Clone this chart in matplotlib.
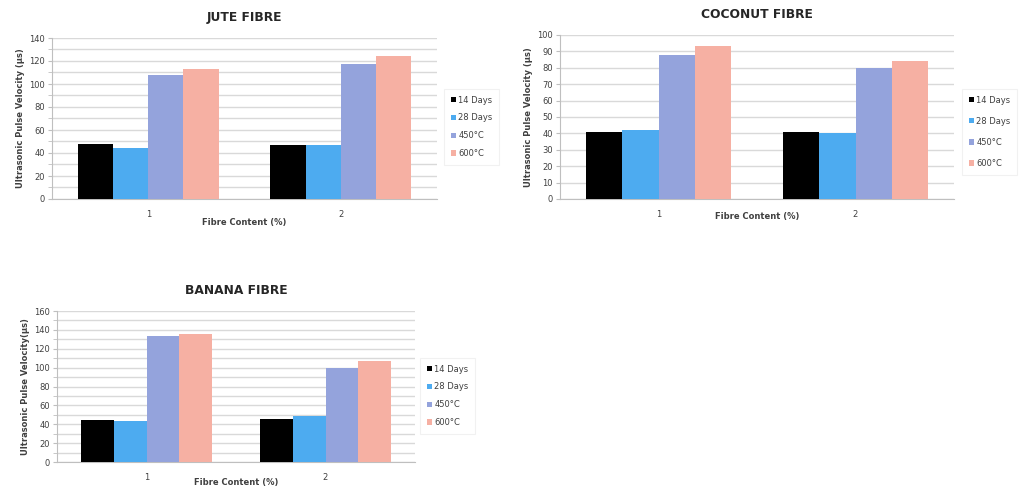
import numpy as np
import matplotlib
matplotlib.use("Agg")
import matplotlib.pyplot as plt

# Ultrasonic pulse velocity per fibre type, fibre content 1% and 2%
fibre_content = ["1", "2"]
series_names = ["14 Days", "28 Days", "450°C", "600°C"]
series_colors = ["#000000", "#4DABF0", "#94A3DC", "#F6B0A3"]

jute_values = [
    [48, 47],     # 14 Days
    [44, 47],     # 28 Days
    [108, 117],   # 450°C
    [113, 124],   # 600°C
]
coconut_values = [
    [41, 41],
    [42, 40],
    [88, 80],
    [93, 84],
]
banana_values = [
    [44, 46],
    [43, 49],
    [133, 100],
    [136, 107],
]

W, H = 1022, 490
fig = plt.figure(figsize=(W / 100, H / 100), dpi=100)
plt.rcParams["font.family"] = ["DejaVu Sans"]


def px_axes(left, top, right, bottom):
    return fig.add_axes([left / W, 1 - bottom / H, (right - left) / W, (bottom - top) / H])


def draw_panel(ax, values, title, ymax, major, minor, ylabel, legend_xy, spacing, xlabel_y):
    x = np.arange(1, len(fibre_content) + 1)
    width = 0.183
    for i, (name, vals) in enumerate(zip(series_names, values)):
        ax.bar(x + (i - 1.5) * width, vals, width, color=series_colors[i],
               label=name, zorder=3)
    ax.set_xlim(0.5, len(fibre_content) + 0.5)
    ax.set_ylim(0, ymax)
    ax.set_yticks(np.arange(0, ymax + 1, major))
    ax.set_yticks(np.arange(0, ymax + 1, minor), minor=True)
    ax.grid(axis="y", which="both", color="#D9D9D9", linewidth=1.0, zorder=0)
    ax.set_xticks(x)
    ax.set_xticklabels(fibre_content)
    for s in ["top", "right"]:
        ax.spines[s].set_visible(False)
    ax.spines["left"].set_color("#BFBFBF")
    ax.spines["bottom"].set_color("#BFBFBF")
    ax.tick_params(axis="y", which="both", length=3, color="#BFBFBF",
                   labelsize=6, labelcolor="#404040", pad=2)
    ax.tick_params(axis="x", length=0, labelsize=6, labelcolor="#404040", pad=8)
    ax.set_ylabel(ylabel, fontsize=6, color="#404040", fontweight="bold", labelpad=3)
    ax.set_title(title, fontsize=8.8, fontweight="bold", color="#262626", pad=12.5)
    ax.set_xlabel("Fibre Content (%)", fontsize=6, color="#404040", fontweight="bold")
    ax.xaxis.set_label_coords(0.5, xlabel_y)
    lx, ly = legend_xy
    leg = ax.legend(loc="upper left", bbox_to_anchor=(lx / W, 1 - ly / H),
                    bbox_transform=fig.transFigure, fontsize=6, borderaxespad=0,
                    frameon=True, handlelength=0.6, handleheight=0.6,
                    handletextpad=0.3, labelspacing=spacing, borderpad=0.8)
    leg.get_frame().set_edgecolor("#EEEEEE")
    leg.get_frame().set_linewidth(0.8)
    leg.get_frame().set_boxstyle("square", pad=0)
    for t in leg.get_texts():
        t.set_color("#404040")


ax1 = px_axes(52, 38, 437, 199)
draw_panel(ax1, jute_values, "JUTE FIBRE", 140, 20, 10,
           "Ultrasonic Pulse Velocity (µs)", (444, 89), 1.05, -0.12)

ax2 = px_axes(560, 35, 954, 199)
draw_panel(ax2, coconut_values, "COCONUT FIBRE", 100, 10, 10,
           "Ultrasonic Pulse Velocity (µs)", (962, 89), 1.45, -0.08)

ax3 = px_axes(57, 311, 415, 462)
draw_panel(ax3, banana_values, "BANANA FIBRE", 160, 20, 10,
           "Ultrasonic Pulse Velocity(µs)", (420, 358), 1.05, -0.107)

fig.savefig("out.png", dpi=100, facecolor="white")
